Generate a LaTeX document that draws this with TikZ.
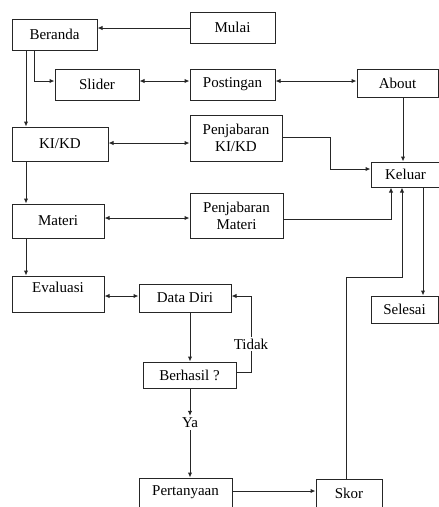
\documentclass[tikz,border=0pt]{standalone}
\usepackage{fontspec}
\setmainfont{Liberation Serif}
\usetikzlibrary{arrows.meta,calc}
\begin{document}
\begin{tikzpicture}[x=1pt,y=-1pt,
  box/.style={draw=black!85,line width=1pt,fill=white,inner sep=1pt,font=\fontsize{15}{17}\selectfont,text=black},
  conn/.style={draw=black!85,line width=1pt},
  arr/.style={conn,-{Latex[length=5pt,width=4.5pt]}},
  darr/.style={conn,{Latex[length=5pt,width=4.5pt]}-{Latex[length=5pt,width=4.5pt]}},
  lbl/.style={font=\fontsize{15}{17}\selectfont,text=black,fill=white,inner sep=2pt}]
\useasboundingbox (0,0) rectangle (439,507);
\begin{scope}
\clip (0,0) rectangle (439,507);
\node[box,minimum width=85,minimum height=31] (mulai) at (232.5,27.5) {Mulai};
\node[box,minimum width=85,minimum height=31] (beranda) at (54.5,34.5) {Beranda};
\node[box,minimum width=84,minimum height=31] (slider) at (97,84.5) {Slider};
\node[box,minimum width=85,minimum height=31] (posting) at (232.5,84.5) {Postingan};
\node[box,minimum width=81,minimum height=28] (about) at (397.5,83) {About};
\node[box,minimum width=96,minimum height=34] (kikd) at (60,144) {KI/KD};
\node[box,minimum width=92,minimum height=46,align=center] (pkikd) at (236,138) {Penjabaran\\KI/KD};
\node[box,minimum width=69,minimum height=25] (keluar) at (405.5,174.5) {Keluar};
\node[box,minimum width=93,minimum height=45,align=center] (pmateri) at (236.5,215.5) {Penjabaran\\Materi};
\node[box,minimum width=92,minimum height=34] (materi) at (58,221) {Materi};
\node[box,minimum width=92,minimum height=36,text depth=14pt] (evaluasi) at (58,294) {Evaluasi};
\node[box,minimum width=92,minimum height=28] (datadiri) at (185,298) {Data Diri};
\node[box,minimum width=93,minimum height=26] (berhasil) at (189.5,375) {Berhasil ?};
\node[box,minimum width=93,minimum height=29] (tanya) at (185.5,492.5) {Pertanyaan};
\node[box,minimum width=66,minimum height=28] (skor) at (349,493) {Skor};
\node[box,minimum width=67,minimum height=27] (selesai) at (404.5,309.5) {Selesai};
\node[lbl] (ya) at (190,423) {Ya};
\end{scope}
% connectors
\draw[arr] (mulai.west |- 0,28) -- (beranda.east |- 0,28);
\draw[arr] (beranda.south -| 34,0) |- (slider.west |- 0,81);
\draw[arr] (beranda.south -| 26,0) -- (kikd.north -| 26,0);
\draw[darr] (slider.east |- 0,81) -- (posting.west |- 0,81);
\draw[darr] (posting.east |- 0,81) -- (about.west |- 0,81);
\draw[darr] (kikd.east |- 0,143) -- (pkikd.west |- 0,143);
\draw[arr] (kikd.south -| 26,0) -- (materi.north -| 26,0);
\draw[darr] (materi.east |- 0,218) -- (pmateri.west |- 0,218);
\draw[arr] (materi.south -| 26,0) -- (evaluasi.north -| 26,0);
\draw[arr] (about.south -| 403,0) -- (keluar.north -| 403,0);
\coordinate (k1) at (330,169);
\draw[arr] (pkikd.east |- 0,137) -| (k1) -- (keluar.west |- k1);
\draw[arr] (pmateri.east |- 0,219) -| (keluar.south -| 391,0);
\coordinate (s1) at (346,277);
\draw[arr] (skor.north -| s1) -- (s1) -| (keluar.south -| 402,0);
\draw[arr] (keluar.south -| 423,0) -- (selesai.north -| 423,0);
\draw[darr] (evaluasi.east |- 0,296) -- (datadiri.west |- 0,296);
\draw[arr] (datadiri.south -| 190,0) -- (berhasil.north -| 190,0);
\coordinate (t1) at (251,372);
\coordinate (t2) at (251,296);
\draw[arr] (berhasil.east |- t1) -- (t1) -- node[lbl,pos=0.37] (tidak) {Tidak} (t2) -- (datadiri.east |- t2);
\draw[arr] (berhasil.south -| ya) -- (ya.north);
\draw[arr] (ya.south) -- (tanya.north -| ya);
\draw[arr] (tanya.east |- 0,491) -- (skor.west |- 0,491);
\end{tikzpicture}
\end{document}
